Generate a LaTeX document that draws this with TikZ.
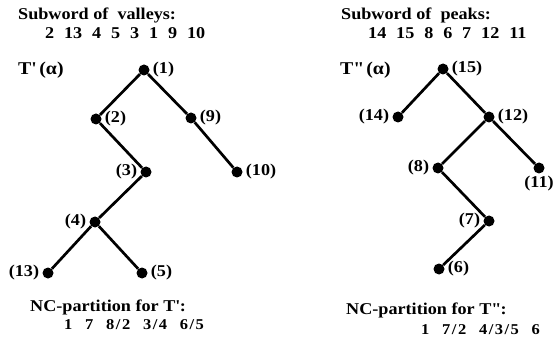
\documentclass[tikz,border=0pt]{standalone}
\usepackage{fontspec}
\setmainfont{Liberation Serif}[FakeStretch=1.1]
\usetikzlibrary{positioning}

\newcommand{\gap}{\hspace{0.6em}}
\newcommand{\bgap}{\hspace{0.85em}}
\newcommand{\sgap}{\hspace{0.1em}}
\newcommand{\bigfont}{\bfseries\fontsize{16.5}{19}\selectfont}
\newcommand{\smallfont}{\bfseries\fontsize{15}{17}\selectfont}

\begin{document}
\begin{tikzpicture}[x=1pt, y=-1pt,
    every node/.style={font=\bigfont},
    txt/.style={anchor=west, inner sep=0pt},
    dot/.style={circle, fill=black, inner sep=0pt, minimum size=11pt},
    every label/.style={inner sep=1pt, font=\bigfont},
    label distance=2pt,
    branch/.style={line width=2.7pt}]
  \useasboundingbox (0,0) rectangle (554,339);

  % Valleys
  \node[txt] (valtitle) at (18,15) {Subword of\ \ valleys:};
  \node[txt] (valword) at (45,33)
    {2\gap 13\gap 4\gap 5\gap 3\gap 1\gap 9\gap 10};
  \node[txt, font=\bfseries\fontsize{18}{20}\selectfont] (tone) at (18,70)
    {T\textquotesingle\,(α)};

  % Tree T'
  \node[dot, label=right:{(1)}] (v1) at (144,70) {};
  \node[dot, label=right:{(2)}] (v2) at (96,119) {};
  \node[dot, label=right:{(9)}] (v9) at (191,118) {};
  \node[dot, label=left:{(3)}] (v3) at (146,172) {};
  \node[dot, label=right:{(10)}] (v10) at (237,172) {};
  \node[dot, label=left:{(4)}] (v4) at (95,222) {};
  \node[dot, label=left:{(13)}] (v13) at (48,273) {};
  \node[dot, label=right:{(5)}] (v5) at (142,273) {};
  \draw[branch] (v1) -- (v2) (v1) -- (v9) (v9) -- (v10)
    (v2) -- (v3) (v3) -- (v4) (v4) -- (v13) (v4) -- (v5);

  \node[txt] (valnc) at (30,307) {NC-partition for T\textquotesingle:};
  \node[txt, font=\smallfont] (valpart) at (64,325)
    {1\bgap 7\bgap 8\sgap/\sgap 2\bgap 3\sgap/\sgap 4\bgap 6\sgap/\sgap 5};

  % Peaks
  \node[txt] (peaktitle) at (341,15) {Subword of\ \ peaks:};
  \node[txt] (peakword) at (368,33)
    {14\gap 15\gap 8\gap 6\gap 7\gap 12\gap 11};
  \node[txt, font=\bfseries\fontsize{18}{20}\selectfont] (ttwo) at (340,70)
    {T\textquotedbl\,(α)};

  % Tree T''
  \node[dot, label=right:{(15)}] (p15) at (443,69) {};
  \node[dot, label=left:{(14)}] (p14) at (398,117) {};
  \node[dot, label=right:{(12)}] (p12) at (489,117) {};
  \node[dot, label=left:{(8)}] (p8) at (438,168) {};
  \node[dot, label={[label distance=1pt]below:{(11)}}] (p11) at (539,168) {};
  \node[dot, label=left:{(7)}] (p7) at (489,221) {};
  \node[dot, label=right:{(6)}] (p6) at (439,269) {};
  \draw[branch] (p15) -- (p14) (p15) -- (p12) (p12) -- (p8)
    (p12) -- (p11) (p8) -- (p7) (p7) -- (p6);

  \node[txt] (peaknc) at (346,310) {NC-partition for T\textquotedbl:};
  \node[txt, font=\smallfont] (peakpart) at (421,330)
    {1\bgap 7\sgap/\sgap 2\bgap 4\sgap/\sgap 3\sgap/\sgap 5\bgap 6};
\end{tikzpicture}
\end{document}
